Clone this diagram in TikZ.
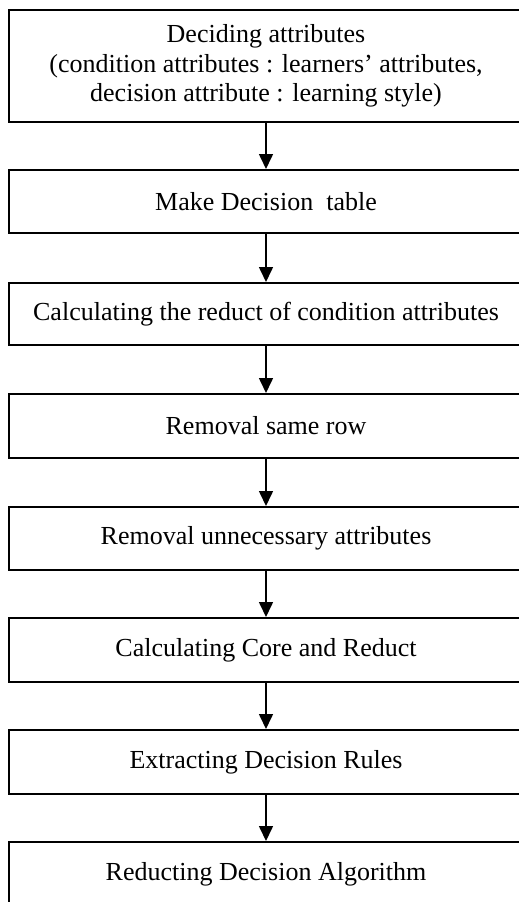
\documentclass[tikz,border=0pt]{standalone}
\usepackage{fontspec}
\setmainfont{Liberation Serif}
\usetikzlibrary{arrows.meta}
\begin{document}
\begin{tikzpicture}[x=1pt,y=-1pt,
  box/.style={draw, line width=1.6pt, minimum width=514pt, inner sep=0pt, anchor=north,
    align=center, font=\fontsize{26}{29.5}\selectfont},
  flow/.style={line width=1.6pt, -{Triangle[width=14pt,length=15pt]}}]
\useasboundingbox (0,0) rectangle (519,902);
\clip (0,0) rectangle (519,902);
\node[box, minimum height=112pt] (b1) at (266,9) {Deciding attributes\\(condition attributes : learners’ attributes,\\decision attribute : learning style)};
\node[box, minimum height=63pt] (b2) at (266,169) {Make Decision\ \ table};
\node[box, minimum height=62pt] (b3) at (266,282) {Calculating the reduct of condition attributes};
\node[box, minimum height=64pt] (b4) at (266,393) {Removal same row};
\node[box, minimum height=63pt] (b5) at (266,506) {Removal unnecessary attributes};
\node[box, minimum height=64pt] (b6) at (266,617) {Calculating Core and Reduct};
\node[box, minimum height=64pt] (b7) at (266,729) {Extracting Decision Rules};
\node[box, minimum height=64pt] (b8) at (266,841) {Reducting Decision Algorithm};
\draw[flow] (b1.south) -- (b2.north);
\draw[flow] (b2.south) -- (b3.north);
\draw[flow] (b3.south) -- (b4.north);
\draw[flow] (b4.south) -- (b5.north);
\draw[flow] (b5.south) -- (b6.north);
\draw[flow] (b6.south) -- (b7.north);
\draw[flow] (b7.south) -- (b8.north);
\end{tikzpicture}
\end{document}
